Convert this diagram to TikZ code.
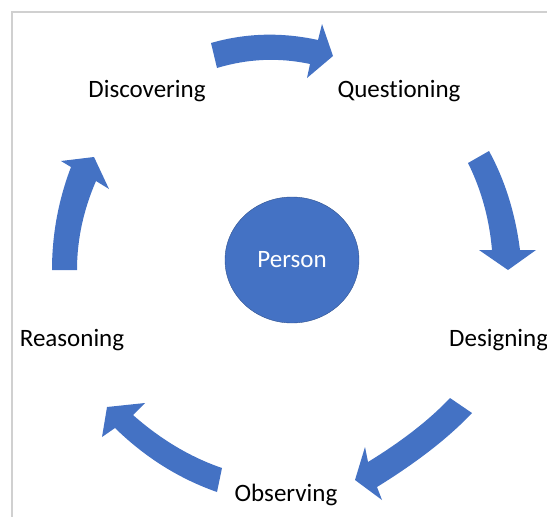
\documentclass[tikz,border=0pt]{standalone}
\usepackage{fontspec}
\setmainfont{Carlito}[Ligatures=NoCommon]
\usetikzlibrary{shapes.geometric}

\definecolor{cycleblue}{HTML}{4472C4}
\definecolor{cycleedge}{HTML}{2F528F}
\definecolor{framegray}{HTML}{D0D0D0}

\tikzset{
	stage/.style={inner sep=0pt, anchor=base, font=\fontsize{25}{30}\selectfont},
	bigarrow/.style={fill=cycleblue, draw=none}
}

\begin{document}
\begin{tikzpicture}[x=1pt, y=-1pt]
	\useasboundingbox (0,0) rectangle (547,517);
	% frame
	\draw[framegray, line width=2pt] (12,517) -- (12,12) -- (547,12);
	% centre
	\node[ellipse, draw=cycleedge, fill=cycleblue, minimum width=134pt, minimum height=126pt,
		inner sep=0pt, text=white, font=\fontsize{25}{30}\selectfont] (person) at (292,260) {Person};
	% stages
	\node[stage] (disc) at (147,97) {Discovering};
	\node[stage] (ques) at (399,97) {Questioning};
	\node[stage, anchor=base west] (desi) at (449,346) {Designing};
	\node[stage] (obse) at (286,501) {Observing};
	\node[stage] (reas) at (72,346) {Reasoning};
	% arrows
	\fill[bigarrow] (211,43) .. controls (245.7,33) and (281.3,32) .. (318,40) -- (322,24) -- (333,56)
		-- (307,78) -- (310,64) .. controls (278.7,57.3) and (247.7,58.7) .. (217,68) -- cycle;
	\fill[bigarrow] (468,163) .. controls (481.3,189.7) and (489.3,218.7) .. (492,250) -- (479,250) -- (508,270)
		-- (536,250) -- (520,250) .. controls (515.3,213.3) and (505,180.3) .. (489,151) -- cycle;
	\fill[bigarrow] (450,398) .. controls (430,419.3) and (402.7,440.7) .. (368,462) -- (365,447) -- (355,480)
		-- (382,500) -- (377,487) .. controls (417,462.3) and (448.7,437.7) .. (472,413) -- cycle;
	\fill[bigarrow] (222,468) .. controls (190.7,457.3) and (161,439.7) .. (133,415) -- (145,403) -- (107,407)
		-- (102,437) -- (115,428) .. controls (145,457.3) and (179,478.7) .. (217,492) -- cycle;
	\fill[bigarrow] (52,270) .. controls (52,234.7) and (58.3,200.3) .. (71,167) -- (61,161) -- (94,157)
		-- (109,189) -- (96,181) .. controls (83.3,210.3) and (77,240) .. (77,270) -- cycle;
\end{tikzpicture}
\end{document}
